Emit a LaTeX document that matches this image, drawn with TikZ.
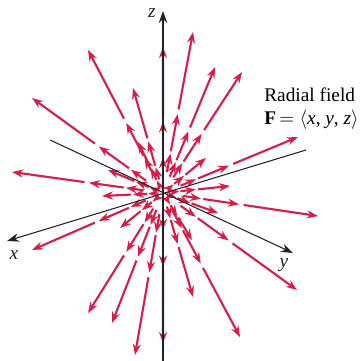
\documentclass[tikz,border=0pt]{standalone}
\usepackage{fontspec}
\setmainfont{Liberation Serif}
\usepackage{tikz}
\usetikzlibrary{arrows.meta,calc}
\definecolor{fieldred}{HTML}{D81E48}
\definecolor{axisc}{HTML}{222222}
\tikzset{
  fvec/.style={-{Stealth[length=2.2mm,width=1.6mm]},line width=1.2pt,draw=fieldred},
  ax/.style={line width=0.6pt,draw=axisc},
  axtip/.style={ax,-{Stealth[length=2.4mm,width=1.7mm]}},
  axlab/.style={font=\fontsize{11}{12}\selectfont\itshape,text=axisc,inner sep=0pt},
  note/.style={font=\fontsize{11}{13}\selectfont,text=black,inner sep=0pt,align=left},
}

\begin{document}
\begin{tikzpicture}[x=0.02cm,y=-0.02cm]
  \useasboundingbox (0,0) rectangle (359,361);
  \coordinate (O) at (163,193);
  \foreach \n/\px/\py in {1/163/47,2/32/98,3/88/50,4/133/88,5/193/32,6/215/67,
      7/242/72,8/298/137,9/12/172,10/318/216,11/297/290,12/240/337,13/193/297,
      14/163/343,15/135/355,16/112/323,17/88/313,18/32/250,
      19/218/213,20/108/170,21/206/158,22/120/228,23/192/240,24/138/142,
      25/230/186,26/102/196}{
    \coordinate (r\n) at (\px,\py);
    \draw[fvec] ($(O)!0.13!(r\n)$) -- ($(O)!0.245!(r\n)$);
    \draw[fvec] ($(O)!0.26!(r\n)$) -- ($(O)!0.49!(r\n)$);
    \draw[fvec] ($(O)!0.52!(r\n)$) -- (r\n);
  }
  \coordinate (xs) at (306,150);
  \coordinate (xe) at (7,241);
  \coordinate (ys) at (50,140);
  \coordinate (ye) at (293,253);
  \coordinate (zs) at (163,361);
  \coordinate (ze) at (163,11);
  \draw[axtip] (xs) -- (xe);
  \draw[axtip] (ys) -- (ye);
  \draw[axtip] (zs) -- (ze);
  \node[axlab] (xl) at (14,255) {x};
  \node[axlab] (yl) at (284,265) {y};
  \node[axlab] (zl) at (152,13) {z};
  \node[note,anchor=north west] (cap) at (264,88)
    {Radial field\\
     \textbf{F}\,$=\langle$\textit{x}, \textit{y}, \textit{z}$\rangle$};
\end{tikzpicture}
\end{document}
